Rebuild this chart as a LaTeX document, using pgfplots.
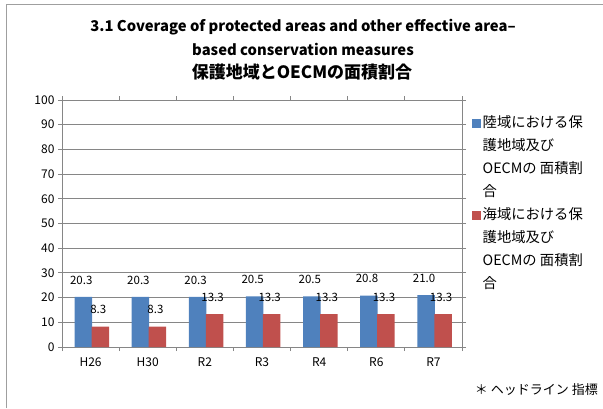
\documentclass[border=0pt]{standalone}
\usepackage{fontspec}
\setmainfont{Noto Sans CJK JP}
\usepackage{pgfplots}
\pgfplotsset{compat=1.18}
\definecolor{barblue}{HTML}{4F81BD}
\definecolor{barred}{HTML}{C0504D}
\definecolor{gridgray}{HTML}{868686}
\begin{document}
\begin{tikzpicture}
\useasboundingbox (0pt,0pt) rectangle (603pt,408pt);
\draw[gray!75, line width=1.5pt] (6.5pt,0pt) -- (6.5pt,403.5pt) -- (603pt,403.5pt);
\node[font=\bfseries\fontsize{14.8}{22}\selectfont, inner sep=0pt] at (303pt,381pt) {3.1 Coverage of protected areas and other effective area–};
\node[font=\bfseries\fontsize{14.8}{22}\selectfont, inner sep=0pt] at (303pt,359pt) {based conservation measures};
\node[font=\bfseries\fontsize{17}{22}\selectfont, inner sep=0pt] at (302pt,336pt) {保護地域とOECMの面積割合};
\node[anchor=east, font=\fontsize{13}{15}\selectfont, inner sep=0pt] at (598pt,18pt) {＊ ヘッドライン 指標};
\begin{axis}[
  at={(62pt,61pt)}, anchor=south west,
  scale only axis, width=400pt, height=247pt,
  xmin=0.5, xmax=7.5, ymin=0, ymax=100,
  ytick={0,10,...,100},
  xtick={1,...,7}, xticklabels={H26,H30,R2,R3,R4,R6,R7},
  minor xtick={0.5,1.5,...,7.5},
  major x tick style={draw=none},
  tick align=outside, major tick length=4pt, minor tick length=4pt,
  ymajorgrids, grid style={gridgray, line width=0.9pt},
  axis line style={gridgray, line width=0.9pt},
  every tick/.style={gridgray, line width=0.9pt},
  minor tick style={gridgray, line width=0.9pt},
  tick label style={font=\fontsize{12}{14}\selectfont, black},
  /pgf/number format/assume math mode=true,
  xticklabel style={yshift=-3pt},
  ybar, bar width=17.5pt,
  nodes near coords,
  nodes near coords style={font=\fontsize{11.5}{13}\selectfont, black, anchor=south, yshift=9pt, xshift=-2pt,
    /pgf/number format/.cd, fixed, fixed zerofill, precision=1, assume math mode=true},
  legend style={draw=none, fill=none, at={(1,1)}, anchor=north west, xshift=10pt, yshift=-15pt,
    font=\fontsize{14.3}{16}\selectfont, row sep=6pt, inner sep=0pt,
    nodes={inner sep=1.5pt, anchor=base west, text height=11pt, text depth=3pt}},
  legend cell align=left,
  legend image code/.code={\fill[#1,draw=none] (0pt,-0.5pt) rectangle (9pt,8.5pt);},
]
\addplot[fill=barblue, draw=none, forget plot, bar shift=-7.3pt] coordinates {(1,20.3) (2,20.3) (3,20.3) (4,20.5) (5,20.5) (6,20.8) (7,21.0)};
\addplot[fill=barred, draw=none, forget plot, bar shift=9.7pt] coordinates {(1,8.3) (2,8.3) (3,13.3) (4,13.3) (5,13.3) (6,13.3) (7,13.3)};
\addlegendimage{fill=barblue, draw=none}
\addlegendentry{陸域における保}
\addlegendimage{empty legend}
\addlegendentry{護地域及び}
\addlegendimage{empty legend}
\addlegendentry{OECMの 面積割}
\addlegendimage{empty legend}
\addlegendentry{合}
\addlegendimage{fill=barred, draw=none}
\addlegendentry{海域における保}
\addlegendimage{empty legend}
\addlegendentry{護地域及び}
\addlegendimage{empty legend}
\addlegendentry{OECMの 面積割}
\addlegendimage{empty legend}
\addlegendentry{合}
\node[anchor=south, font=\fontsize{12}{14}\selectfont, inner sep=0pt] at (rel axis cs:0,1) [yshift=10pt] {\%};
\end{axis}
\end{tikzpicture}
\end{document}
